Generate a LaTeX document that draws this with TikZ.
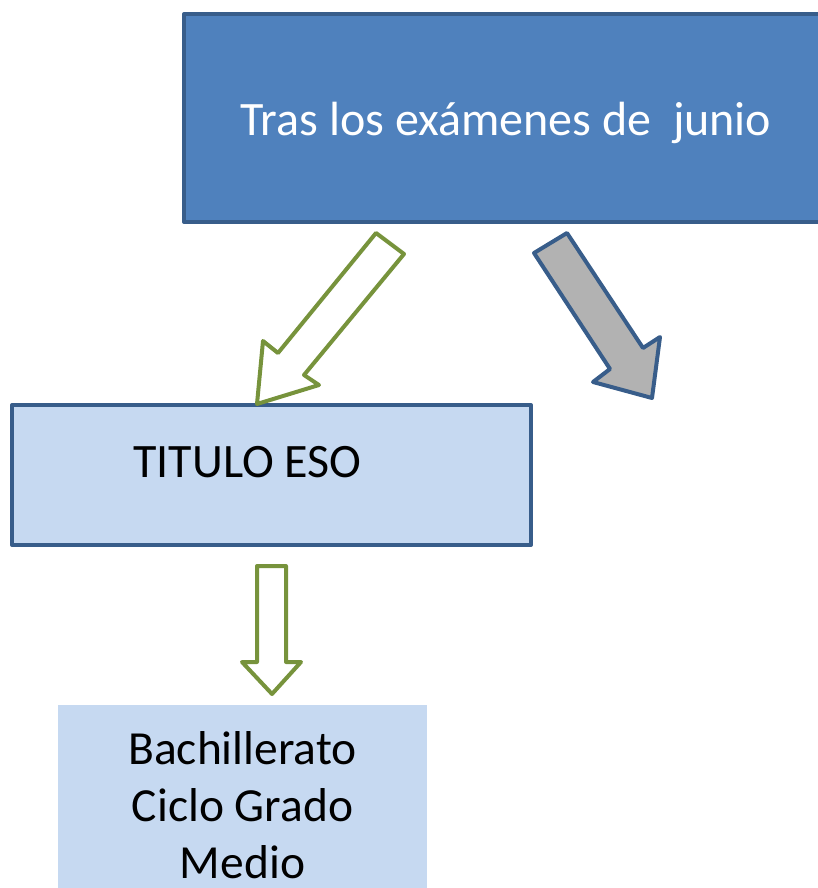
\documentclass[tikz,border=0pt]{standalone}
\usepackage{fontspec}
\setmainfont{Carlito}
\usetikzlibrary{positioning}
\definecolor{BoxBlue}{HTML}{4F81BD}
\definecolor{EdgeBlue}{HTML}{385D8A}
\definecolor{PaleBlue}{HTML}{C6D9F1}
\definecolor{OliveGreen}{HTML}{77933C}
\definecolor{ArrowGray}{HTML}{B2B2B2}
\begin{document}
\begin{tikzpicture}[x=1pt,y=-1pt,line join=round,
 top/.style={draw=EdgeBlue,line width=4pt,fill=BoxBlue,minimum width=636pt,minimum height=208pt,inner sep=0pt},
 mid/.style={draw=EdgeBlue,line width=4pt,fill=PaleBlue,minimum width=519pt,minimum height=140pt,inner sep=0pt},
 low/.style={fill=PaleBlue,minimum width=369pt,minimum height=200pt,inner sep=0pt,align=center,font=\fontsize{47.5}{57}\selectfont},
 txt/.style={inner sep=0pt,font=\fontsize{48}{57}\selectfont},
 hollow/.style={draw=OliveGreen,line width=4pt,fill=white},
 solid/.style={draw=EdgeBlue,line width=4pt,fill=ArrowGray}]
\useasboundingbox (0,0) rectangle (818,888);
\node[top] (junio) at (502,118) {};
\node[txt,text=white] (juniotxt) at ([xshift=4pt,yshift=-5pt]junio.center) {Tras los ex\'amenes de \ junio};
\node[mid] (eso) at (271.5,475) {};
\node[txt] (esotxt) at ([xshift=-24pt,yshift=13pt]eso.center) {TITULO ESO};
\node[low] (bach) at (242.5,805) {Bachillerato\\Ciclo Grado\\Medio};
% block arrows
\draw[hollow] (376,233)--(404,254)--(304,375)--(319,385)--(257,404)--(263,341)--(278,353)--cycle;
\draw[solid] (534,253)--(567,233)--(643,348)--(660,337)--(652,398)--(593,382)--(610,369)--cycle;
\draw[hollow] (257,566)--(286,566)--(286,662)--(301,662)--(272,694)--(242,662)--(257,662)--cycle;
\end{tikzpicture}
\end{document}
